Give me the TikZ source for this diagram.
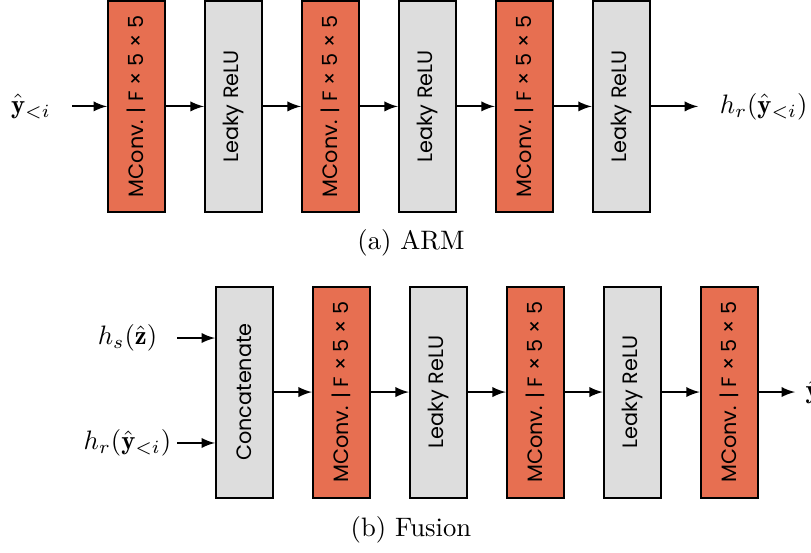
\documentclass[tikz,border=0pt]{standalone}
\usepackage{amsmath,amssymb}
\usepackage{graphicx}
\usepackage{fontspec}
\newfontfamily\boxfont{Poppins}
\usepackage{tikz}
\usetikzlibrary{arrows,positioning}

\definecolor{convorange}{RGB}{231,111,81}
\definecolor{actgray}{RGB}{221,221,221}

\begin{document}
\begin{tikzpicture}[
  node distance=14.2pt,
  blk/.style={rectangle, draw, line width=0.75pt, minimum width=21.4pt, minimum height=79.1pt, inner sep=0pt, font=\boxfont\fontsize{7.8}{9}\selectfont},
  conv/.style={blk, fill=convorange},
  act/.style={blk, fill=actgray},
  arr/.style={-latex, line width=0.75pt},
  captxt/.style={font=\normalsize}
]
\useasboundingbox (0,0) rectangle (304.1pt,-207pt);

% ARM
\node[conv] (arm1) at (51.2pt,-39.9pt) {\rotatebox{90}{MConv. | F × 5 × 5}};
\node[act, right=of arm1] (arm2) {\rotatebox{90}{Leaky ReLU}};
\node[conv, right=of arm2] (arm3) {\rotatebox{90}{MConv. | F × 5 × 5}};
\node[act, right=of arm3] (arm4) {\rotatebox{90}{Leaky ReLU}};
\node[conv, right=of arm4] (arm5) {\rotatebox{90}{MConv. | F × 5 × 5}};
\node[act, right=of arm5] (arm6) {\rotatebox{90}{Leaky ReLU}};

\coordinate (armin) at (27pt,-39.9pt);
\node (armlbl) at (11.6pt,-39.9pt) {$\hat{\mathbf{y}}_{<i}$};
\coordinate (armout) at (261.75pt,-39.9pt);
\node[right=8pt of armout, inner sep=0pt] (armoutlbl) {$h_r(\hat{\mathbf{y}}_{<i})$};

\draw[arr] (armin) -- (arm1);
\draw[arr] (arm1) -- (arm2);
\draw[arr] (arm2) -- (arm3);
\draw[arr] (arm3) -- (arm4);
\draw[arr] (arm4) -- (arm5);
\draw[arr] (arm5) -- (arm6);
\draw[arr] (arm6) -- (armout);

\node[captxt] (capa) at (154.1pt,-91.1pt) {(a) ARM};

% Fusion
\node[act] (fus1) at (91.7pt,-147pt) {\rotatebox{90}{Concatenate}};
\node[conv, right=of fus1] (fus2) {\rotatebox{90}{MConv. | F × 5 × 5}};
\node[act, right=of fus2] (fus3) {\rotatebox{90}{Leaky ReLU}};
\node[conv, right=of fus3] (fus4) {\rotatebox{90}{MConv. | F × 5 × 5}};
\node[act, right=of fus4] (fus5) {\rotatebox{90}{Leaky ReLU}};
\node[conv, right=of fus5] (fus6) {\rotatebox{90}{MConv. | F × 5 × 5}};

\coordinate (hsin) at (66.4pt,-126.75pt);
\coordinate (hrin) at (66.4pt,-166.1pt);
\node (hslbl) at (47.8pt,-126.75pt) {$h_s(\hat{\mathbf{z}})$};
\node[inner sep=0pt] (hrlbl) at (47.8pt,-166.1pt) {$h_r(\hat{\mathbf{y}}_{<i})$};
\coordinate (fusout) at (298.1pt,-147pt);
\node[right=3.8pt of fusout, inner sep=0pt] (fusoutlbl) {$\hat{\mathbf{y}}$};

\draw[arr] (hsin) -- (hsin -| fus1.west);
\draw[arr] (hrin) -- (hrin -| fus1.west);
\draw[arr] (fus1) -- (fus2);
\draw[arr] (fus2) -- (fus3);
\draw[arr] (fus3) -- (fus4);
\draw[arr] (fus4) -- (fus5);
\draw[arr] (fus5) -- (fus6);
\draw[arr] (fus6) -- (fusout);

\node[captxt] (capb) at (154.1pt,-198.8pt) {(b) Fusion};

\end{tikzpicture}
\end{document}
